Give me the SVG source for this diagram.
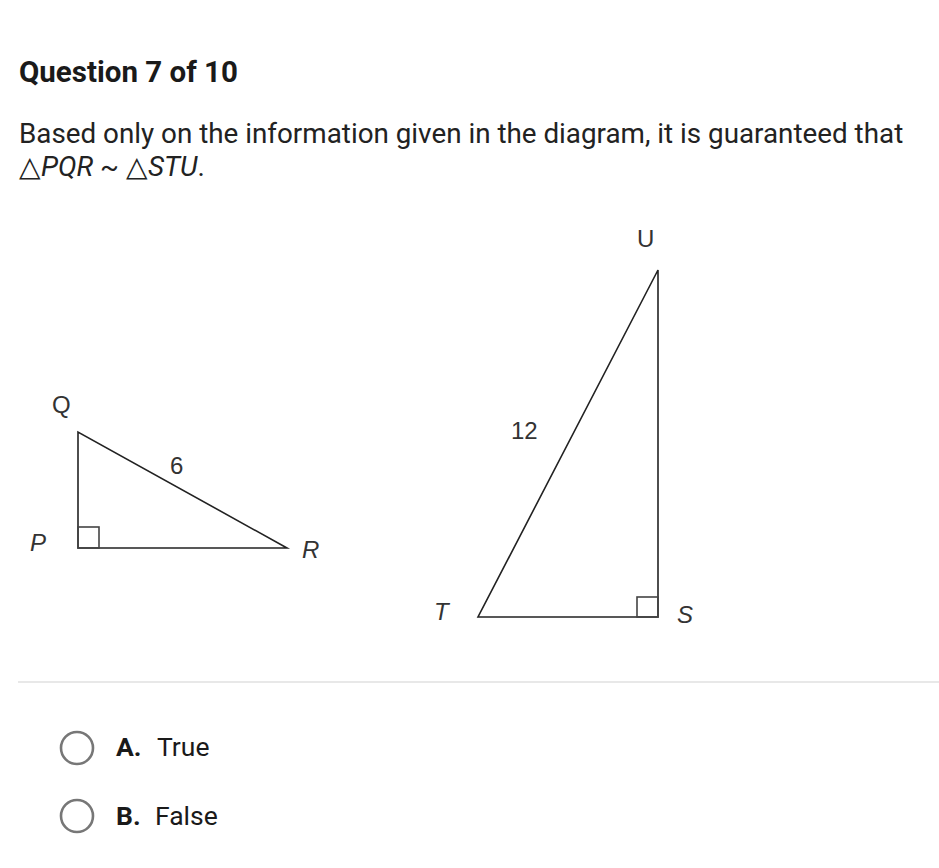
<svg xmlns="http://www.w3.org/2000/svg" width="939" height="868" viewBox="0 0 939 868">
<style>
.title{font-family:Roboto,"Liberation Sans",sans-serif;font-weight:bold;font-size:29.5px;fill:#1a1a1a}
.body{font-family:Roboto,"Liberation Sans",sans-serif;font-size:27.8px;fill:#222}
.lbl{font-family:"Liberation Sans",sans-serif;font-size:24px;fill:#333}
.it{font-style:italic}
.edge{stroke:#222;stroke-width:1.6;fill:none}
.box{stroke:#444;stroke-width:1.6;fill:none}
.radio{stroke:#777;stroke-width:2.6;fill:none}
.opt{font-family:Roboto,"Liberation Sans",sans-serif;font-size:26.5px;fill:#1a1a1a}
</style>
<rect width="939" height="868" fill="#fff"/>
<text class="title" x="19" y="82">Question 7 of 10</text>
<text class="body" x="19" y="143">Based only on the information given in the diagram, it is guaranteed that</text>
<text class="body" x="19" y="176">△<tspan class="it">PQR</tspan> ~ △<tspan class="it">STU</tspan>.</text>

<g id="triangle-PQR">
<polygon class="edge" points="78,432 78,548 287,548"/>
<rect class="box" x="78" y="527" width="21" height="21"/>
</g>
<g id="label-Q"><text class="lbl" x="52" y="413">Q</text></g>
<g id="label-P"><text class="lbl it" x="30" y="551">P</text></g>
<g id="label-R"><text class="lbl it" x="302" y="558">R</text></g>
<g id="label-6"><text class="lbl" x="170" y="474">6</text></g>

<g id="triangle-STU">
<polygon class="edge" points="658,270 658,617 478,617"/>
<rect class="box" x="637" y="597" width="21" height="20"/>
</g>
<g id="label-U"><text class="lbl" x="637" y="247">U</text></g>
<g id="label-T"><text class="lbl it" x="434" y="620">T</text></g>
<g id="label-S"><text class="lbl it" x="677" y="623">S</text></g>
<g id="label-12"><text class="lbl" x="511" y="439">12</text></g>

<line x1="18" y1="682" x2="939" y2="682" stroke="#e0e0e0" stroke-width="1.5"/>

<g id="option-A">
<circle class="radio" cx="77" cy="748" r="16"/>
<text class="opt" x="116" y="756"><tspan font-weight="bold">A.</tspan><tspan x="157">True</tspan></text>
</g>
<g id="option-B">
<circle class="radio" cx="77" cy="816" r="16"/>
<text class="opt" x="116" y="825"><tspan font-weight="bold">B.</tspan><tspan x="155">False</tspan></text>
</g>
</svg>
